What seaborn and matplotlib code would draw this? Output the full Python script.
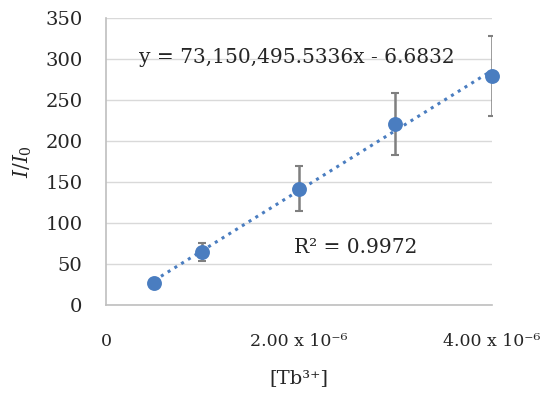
import matplotlib
matplotlib.use("Agg")
import matplotlib.pyplot as plt
import numpy as np
import seaborn as sns

# data
conc = [0.5e-6, 1.0e-6, 2.0e-6, 3.0e-6, 4.0e-6]
ratio = [27, 65, 142, 221, 279]
err = [3, 11, 27, 38, 49]
slope = 73150495.5336
intercept = -6.6832
r2 = 0.9972

BLUE = "#4A7DC0"
GREY = "#7F7F7F"
AXIS = "#BFBFBF"
TEXT = "#262626"

sns.set_style("white")
plt.rcParams["font.family"] = ["DejaVu Serif"]
plt.rcParams["mathtext.fontset"] = "custom"
plt.rcParams["mathtext.rm"] = "DejaVu Serif"
plt.rcParams["mathtext.it"] = "DejaVu Serif:italic"

fig = plt.figure(figsize=(5.5, 3.99), dpi=100)
ax = fig.add_axes([0.1927, 0.2356, 0.7018, 0.7193])

# trendline
fit_x = np.array([conc[0], conc[-1]])
fit_y = slope * fit_x + intercept
sns.lineplot(x=fit_x, y=fit_y, ax=ax, color=BLUE, linestyle=(0, (1, 1.6)),
             linewidth=2.2, zorder=2)

ax.errorbar(conc, ratio, yerr=err, fmt="none", ecolor=GREY, elinewidth=1.8,
            capsize=3, capthick=1.5, zorder=3)
sns.scatterplot(x=conc, y=ratio, ax=ax, color=BLUE, s=115, edgecolor=BLUE,
                linewidth=0, zorder=4, clip_on=False)

ax.set_xlim(0, 4e-6)
ax.set_ylim(0, 350)
ax.set_yticks(range(0, 351, 50))
ax.set_xticks([0, 2e-6, 4e-6])
ax.set_xticklabels(["0", "2.00 x 10⁻⁶", "4.00 x 10⁻⁶"])
ax.yaxis.grid(True, color="#D9D9D9", linewidth=1)
ax.set_axisbelow(True)

for side in ["top", "right"]:
    ax.spines[side].set_visible(False)
for side in ["left", "bottom"]:
    ax.spines[side].set_color(AXIS)
    ax.spines[side].set_linewidth(1.2)
ax.tick_params(axis="both", colors=AXIS, labelcolor=TEXT, length=4,
               width=1.2, direction="out")
ax.tick_params(axis="x", pad=16, labelsize=12.5)
ax.yaxis.set_tick_params(pad=13, labelsize=14)

ax.set_xlabel("[Tb³⁺]", fontsize=14, color=TEXT, labelpad=14)
ax.set_ylabel(r"$I/I_\mathrm{0}$", fontsize=14.5, color=TEXT, labelpad=8)

ax.text(0.34e-6, 302, f"y = {slope:,.4f}x - {abs(intercept):.4f}",
        fontsize=14.5, color=TEXT, va="center", ha="left")
ax.text(1.95e-6, 70, f"R² = {r2}", fontsize=14.5, color=TEXT,
        va="center", ha="left")

fig.savefig("out.png", dpi=100)
